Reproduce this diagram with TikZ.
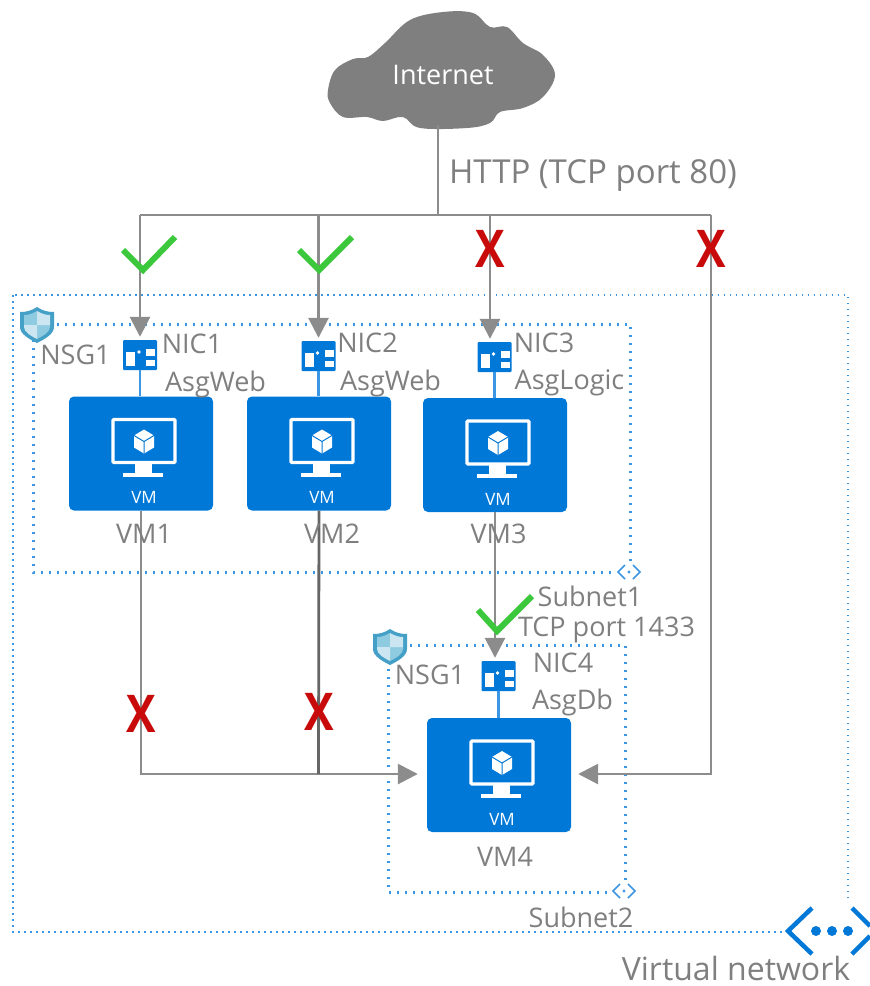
\documentclass[tikz,border=0pt]{standalone}
\usepackage{fontspec}
\setmainfont{Open Sans}
\usetikzlibrary{arrows, arrows.meta}
\usetikzlibrary{calc}
\definecolor{azureblue}{HTML}{0078D7}
\definecolor{dotblue}{HTML}{3B97E3}
\definecolor{linegray}{HTML}{8C8C8C}
\definecolor{darkgray}{HTML}{666666}
\definecolor{cloudgray}{HTML}{7F7F7F}
\definecolor{textgray}{HTML}{7F7F7F}
\definecolor{okgreen}{HTML}{3CC83C}
\definecolor{nored}{HTML}{C80A0A}
\definecolor{shieldedge}{HTML}{45A0C8}
\definecolor{shieldlight}{HTML}{CBE6F1}
\definecolor{shieldmid}{HTML}{8FCBE0}
\tikzset{
    vmbox/.style={fill=azureblue, rounded corners=5pt, inner sep=0pt, minimum width=144pt, minimum height=114pt},
    nicbox/.style={fill=azureblue, rounded corners=1pt, inner sep=0pt, minimum width=34pt, minimum height=30pt},
    wire/.style={draw=linegray, line width=2.8pt},
    arrowwire/.style={wire, -{Triangle[length=20pt, width=20pt]}},
    nicwire/.style={draw=dotblue, line width=2.8pt},
    netbox/.style={draw=dotblue, line width=2.5pt, dash pattern=on 1.5pt off 4.5pt},
    dotbox/.style={draw=dotblue, line width=3pt, dash pattern=on 2pt off 6pt},
    lbl/.style={text=textgray, inner sep=0pt, font=\fontsize{27}{27}\selectfont},
    biglbl/.style={lbl, font=\fontsize{33}{33}\selectfont},
    okmark/.style={draw=okgreen, line width=6pt},
    nomark/.style={text=nored, inner sep=0pt, font=\fontsize{52}{52}\selectfont\bfseries},
    pics/vmicon/.style={code={
        \draw[white, line width=3.2pt, rounded corners=1pt] (-28,-34) rectangle (34,9);
        \fill[white] (-6,9) rectangle (11,20);
        \fill[white] (-18,19) rectangle (22,23);
        \fill[white] (3,-24) -- (13,-18) -- (13,-6) -- (3,0) -- (-7,-6) -- (-7,-18) -- cycle;
        \draw[azureblue, line width=1pt] (-7,-18) -- (3,-12) -- (13,-18) (3,-12) -- (3,0);
        \node[text=white, inner sep=0pt, font=\fontsize{17}{17}\selectfont] at (3,44) {VM};
    }},
    pics/nicicon/.style={code={
        \fill[white] (-14,-3) rectangle (-5,11);
        \fill[white] (-1,-3) circle (1.8pt);
        \fill[white] (6,-6) rectangle (15,1);
        \fill[white] (6,5) rectangle (15,11);
    }},
    pics/shieldicon/.style={code={
        \fill[shieldedge] (0,-18) .. controls (-6,-14) and (-11,-13) .. (-17,-13) -- (-17,2) .. controls (-17,9) and (-8,14) .. (0,18) .. controls (8,14) and (17,9) .. (17,2) -- (17,-13) .. controls (11,-13) and (6,-14) .. (0,-18) -- cycle;
        \fill[shieldmid] (0,-14) .. controls (-5,-11) and (-9,-10) .. (-13,-10) -- (-13,0) -- (0,0) -- cycle;
        \fill[shieldmid] (0,0) -- (13,0) -- (13,2) .. controls (13,7) and (6,11) .. (0,14) -- cycle;
        \fill[shieldlight] (0,-14) .. controls (5,-11) and (9,-10) .. (13,-10) -- (13,0) -- (0,0) -- cycle;
        \fill[shieldlight] (0,0) -- (-13,0) -- (-13,2) .. controls (-13,7) and (-6,11) .. (0,14) -- cycle;
    }},
    pics/subneticon/.style={code={
        \fill[white] (-13,-9) rectangle (13,9);
        \draw[dotblue, line width=1.5pt] (-4,-7) -- (-11,0) -- (-4,7) (4,-7) -- (11,0) -- (4,7);
        \fill[dotblue] (0,0) circle (1.7pt);
    }}
}
\begin{document}
\begin{tikzpicture}[x=1pt, y=-1pt]
    \useasboundingbox (0,0) rectangle (870,986);

    % dotted boxes
    \draw[netbox] (13,295) rectangle (848,932);
    \draw[dotbox] (33,324) rectangle (630,572);
    \draw[dotbox] (388,645) rectangle (625,892);

    % cloud
    \fill[cloudgray] plot[smooth cycle, tension=0.6] coordinates {(328,90) (335,70) (353,59) (368,57) (385,43) (410,20) (443,12) (473,13) (490,27) (507,27) (523,43) (543,55) (555,75) (543,97) (523,108) (500,112) (490,123) (467,128) (420,128) (403,117) (383,121) (367,117) (343,117) (330,103)};
    \node[text=white, inner sep=0pt, font=\fontsize{27}{27}\selectfont] (internet) at (443,75) {Internet};
    \coordinate (cloudbase) at (438,125);

    % vms and nics
    \node[vmbox] (vm1) at (141,453.5) {};
    \node[vmbox] (vm2) at (319,453.5) {};
    \node[vmbox] (vm3) at (495,455) {};
    \node[vmbox] (vm4) at (499,775) {};
    \pic at (vm1.center) {vmicon};
    \pic at (vm2.center) {vmicon};
    \pic at (vm3.center) {vmicon};
    \pic at (vm4.center) {vmicon};

    \node[nicbox] (nic1) at (140,355) {};
    \node[nicbox] (nic2) at (318.5,356) {};
    \node[nicbox] (nic3) at (494.5,357) {};
    \node[nicbox] (nic4) at (498.5,676) {};
    \pic at (nic1.center) {nicicon};
    \pic at (nic2.center) {nicicon};
    \pic at (nic3.center) {nicicon};
    \pic at (nic4.center) {nicicon};

    \draw[nicwire] (nic1) -- (nic1 |- vm1.north);
    \draw[nicwire] (nic2) -- (nic2 |- vm2.north);
    \draw[nicwire] (nic3) -- (nic3 |- vm3.north);
    \draw[nicwire] (nic4) -- (nic4 |- vm4.north);

    % http bus
    \coordinate (bus1) at (140,215);
    \coordinate (bus2) at (318.5,215);
    \coordinate (bus3) at (490,215);
    \coordinate (bus4) at (711,215);
    \coordinate (stem) at (438,215);
    \coordinate (corner) at (711,774);
    \coordinate (vm1turn) at (141,774);
    \coordinate (vm2turn) at (318.5,774);
    \draw[wire] (cloudbase) -- (stem);
    \draw[wire] (bus1) -- (bus4);
    \draw[arrowwire, shorten >=3pt] (bus1) -- (nic1.north);
    \draw[arrowwire, shorten >=3pt] (bus2) -- (nic2.north);
    \draw[arrowwire, shorten >=3pt] (bus3) -- (bus3 |- nic3.north);
    \draw[arrowwire, shorten >=7pt] (bus4) -- (corner) -- (vm4.east |- corner);

    % east west traffic
    \draw[arrowwire, shorten >=9pt] (vm1.south) -- (vm1turn) -- (vm4.west |- vm1turn);
    \draw[wire, draw=darkgray] (vm2.south) -- (vm2turn);
    \draw[arrowwire, shorten >=3pt] (vm3.south) -- (vm3.south |- nic4.north);

    % marks
    \draw[okmark] (123,250) -- (143,270) -- (175,237);
    \draw[okmark] (299,250) -- (319,270) -- (352,237);
    \draw[okmark] (478,610) -- (497,631) -- (532,596);
    \node[nomark] (x1) at (490,249) {\scalebox{0.85}[1]{X}};
    \node[nomark] (x2) at (711.5,249) {\scalebox{0.85}[1]{X}};
    \node[nomark] (x3) at (141,713.5) {\scalebox{0.85}[1]{X}};
    \node[nomark] (x4) at (319,711.5) {\scalebox{0.85}[1]{X}};

    % icons
    \pic at (37,325) {shieldicon};
    \pic at (390,647) {shieldicon};
    \pic at (629,572) {subneticon};
    \pic at (624,891) {subneticon};
    \fill[white] (785,900) rectangle (870,957);
    \draw[azureblue, line width=4.5pt] (812,908) -- (788,931) -- (812,954);
    \draw[azureblue, line width=4.5pt] (852,908) -- (870,926);
    \draw[azureblue, line width=4.5pt] (852,954) -- (870,936);
    \foreach \x in {816,832,848}
        \fill[azureblue] (\x,931) circle (5pt);

    % labels
    \node[biglbl] (http) at (593,175) {HTTP (TCP port 80)};
    \node[lbl] (lnic1) at (192,344) {NIC1};
    \node[lbl] (lnic2) at (367.5,343) {NIC2};
    \node[lbl] (lnic3) at (544,343) {NIC3};
    \node[lbl] (lnic4) at (563,663) {NIC4};
    \node[lbl] (lasg1) at (215.5,384) {AsgWeb};
    \node[lbl] (lasg2) at (390.5,383) {AsgWeb};
    \node[lbl] (lasg3) at (569.5,383) {AsgLogic};
    \node[lbl] (lasg4) at (572.5,702) {AsgDb};
    \node[lbl] (lnsg1) at (75.5,355) {NSG1};
    \node[lbl] (lnsg2) at (430,675) {NSG1};
    \node[lbl] (lvm1) at (144,534) {VM1};
    \node[lbl] (lvm2) at (332,534) {VM2};
    \node[lbl] (lvm3) at (498.5,534) {VM3};
    \node[lbl] (lvm4) at (505,857) {VM4};
    \node[lbl] (lsub1) at (590,596) {Subnet1};
    \node[lbl] (ltcp) at (606.5,630) {TCP port 1433};
    \node[lbl] (lsub2) at (581,917) {Subnet2};
    \node[biglbl, font=\fontsize{32}{32}\selectfont] (lvnet) at (736,968) {Virtual network};
\end{tikzpicture}
\end{document}
